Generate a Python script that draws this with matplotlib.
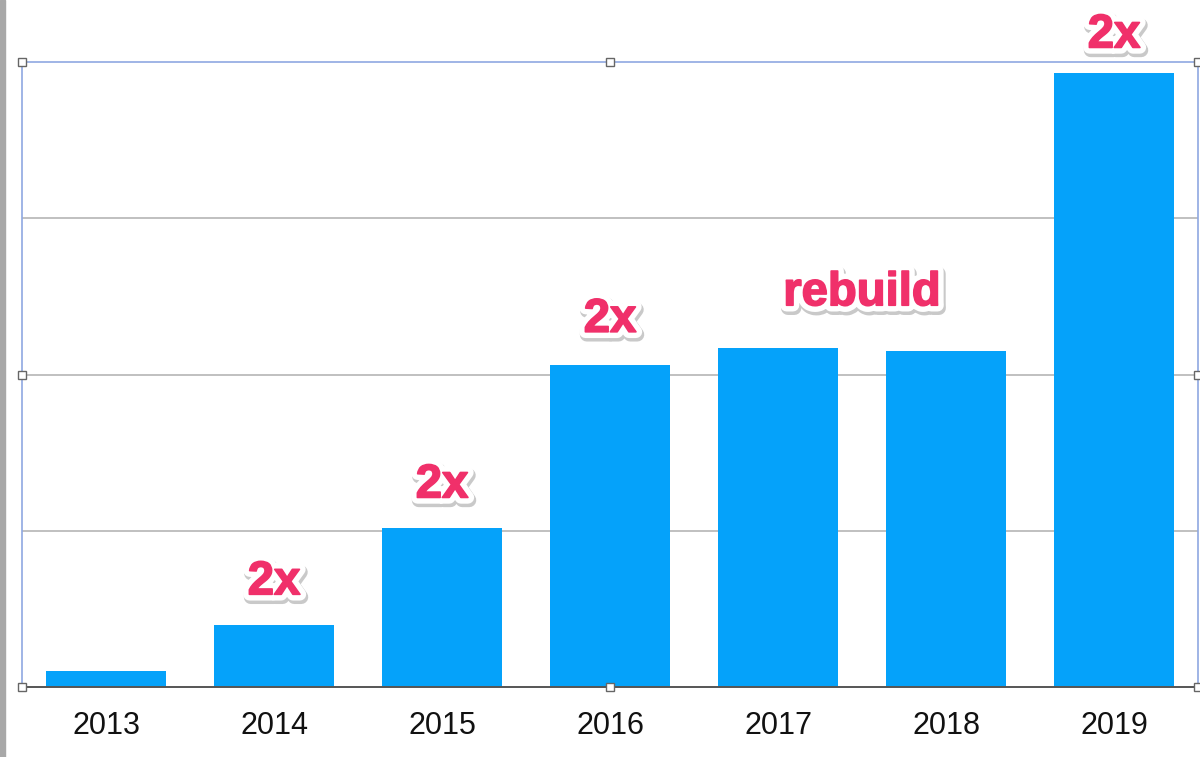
import matplotlib.pyplot as plt
import matplotlib.patheffects as pe
from matplotlib.patches import Rectangle
import numpy as np

years = ["2013", "2014", "2015", "2016", "2017", "2018", "2019"]
values = [0.1, 0.4, 1.02, 2.06, 2.17, 2.15, 3.93]

# annotation text, x position (category index), y position (data units)
notes = ["2x", "2x", "2x", "rebuild", "2x"]
note_x = [1, 2, 3, 4.5, 6]
note_y = [0.67, 1.29, 2.35, 2.52, 4.17]

fig = plt.figure(figsize=(12, 7.57), dpi=100)
ax = fig.add_axes([22/1200, 70/757, 1176/1200, 625/757])

x = np.arange(len(years))
ax.bar(x, values, width=0.714, color='#05A2FA', zorder=2)

ax.set_xlim(-0.5, 6.5)
ax.set_ylim(0, 4)
ax.set_yticks([1, 2, 3])
ax.yaxis.grid(True, color='#B5B5B5', linewidth=1.2, zorder=0)
ax.tick_params(axis='y', left=False, labelleft=False)
ax.set_xticks(x)
ax.set_xticklabels(years, fontsize=22, family='Liberation Sans', color='#111111')
ax.tick_params(axis='x', length=0, pad=17)

for side in ['top', 'left', 'right']:
    ax.spines[side].set_color('#8FA8E2')
    ax.spines[side].set_linewidth(1.2)
ax.spines['bottom'].set_color('#555555')
ax.spines['bottom'].set_linewidth(1.4)

# selection handles
hx = [0, 0.5, 1, 0, 1, 0, 0.5, 1]
hy = [1, 1, 1, 0.5, 0.5, 0, 0, 0]
ax.plot(hx, hy, 's', transform=ax.transAxes, clip_on=False, markersize=6,
        markerfacecolor='white', markeredgecolor='#666666', markeredgewidth=1, zorder=5)

effects = [pe.Stroke(linewidth=10, foreground='#888888', alpha=0.45, offset=(1, -2)),
           pe.Stroke(linewidth=9, foreground='white'),
           pe.Stroke(linewidth=1.2, foreground='#F0306A'),
           pe.Normal()]
for t, nx, ny in zip(notes, note_x, note_y):
    ax.text(nx, ny, t, ha='center', va='center', fontsize=34, fontweight='bold',
            family='Liberation Sans', color='#F0306A', path_effects=effects,
            clip_on=False, zorder=6)

# gray strip on left edge
fig.patches.append(Rectangle((0, 0), 5/1200, 1, transform=fig.transFigure,
                             color='#A8A8A8', zorder=0))

fig.savefig('out.png', dpi=100)
